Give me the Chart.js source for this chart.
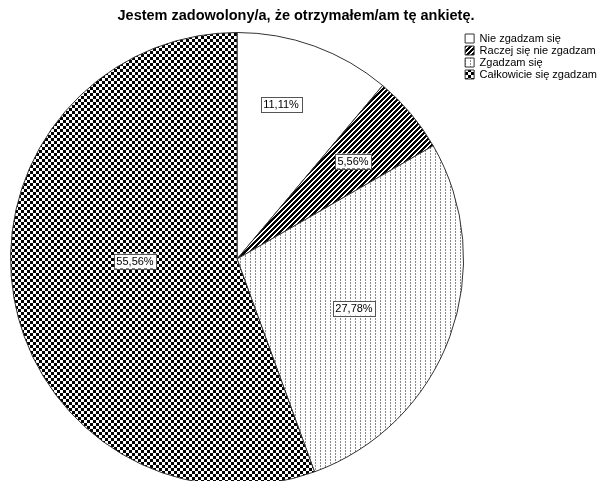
<!DOCTYPE html>
<html>
<head>
<meta charset="utf-8">
<script src="https://cdn.jsdelivr.net/npm/chart.js@4"></script>
<style>
  html, body { margin: 0; padding: 0; background: #fff; overflow: hidden; }
  #wrap { width: 597px; height: 481px; overflow: hidden; position: relative; }
  #pieChart { position: absolute; left: -15px; top: 0; }
</style>
</head>
<body>
<div id="wrap"><canvas id="pieChart" width="622" height="500"></canvas></div>
<script>
// data (n = 18)
const title = "Jestem zadowolony/a, że otrzymałem/am tę ankietę.";
const categories = ["Nie zgadzam się", "Raczej się nie zgadzam", "Zgadzam się", "Całkowicie się zgadzam"];
const counts = [2, 1, 5, 10];

const total = counts.reduce((a, b) => a + b, 0);
const percentLabels = counts.map(c => (c / total * 100).toFixed(2).replace(".", ",") + "%");

// small tiles used as fill patterns
function makePattern(w, h, draw){
    const c = document.createElement("canvas");
    c.width = w; c.height = h;
    const g = c.getContext("2d");
    g.fillStyle = "#fff";
    g.fillRect(0, 0, w, h);
    draw(g);
    return g.createPattern(c, "repeat");
}

const stripes = makePattern(5, 5, g => {
    g.fillStyle = "#000";
    for(let x = 0; x < 5; x++){
        for(let y = 0; y < 5; y++){
            if((x + y) % 5 < 3) g.fillRect(x, y, 1, 1);
        }
    }
});

const dots = makePattern(5, 3, g => {
    g.fillStyle = "#8a8a8a";
    g.fillRect(0, 0, 1, 2);
});

const checker = makePattern(6, 6, g => {
    g.fillStyle = "#000";
    g.fillRect(0, 0, 3, 3);
    g.fillRect(3, 3, 3, 3);
});

// boxed percent labels
const boxLabels = {
    id: "boxLabels",
    afterDatasetsDraw(chart, args, opts){
        const ctx = chart.ctx;
        const meta = chart.getDatasetMeta(0);
        ctx.save();
        ctx.font = "11px 'Liberation Sans', Arial, sans-serif";
        ctx.textAlign = "center";
        ctx.textBaseline = "middle";
        meta.data.forEach((arc, i) => {
            const p = arc.getProps(["x","y","startAngle","endAngle","outerRadius"], true);
            const mid = (p.startAngle + p.endAngle) / 2 + opts.angleShift[i] * Math.PI / 180;
            const r = p.outerRadius * opts.radius[i];
            const px = Math.round(p.x + Math.cos(mid) * r);
            const py = Math.round(p.y + Math.sin(mid) * r);
            const txt = percentLabels[i];
            const w = Math.round(ctx.measureText(txt).width) + 5;
            const h = 15;
            ctx.fillStyle = "#fff";
            ctx.fillRect(px - w/2, py - h/2, w, h);
            ctx.strokeStyle = "#555";
            ctx.lineWidth = 1;
            ctx.strokeRect(Math.round(px - w/2) + 0.5, Math.round(py - h/2) + 0.5, w, h);
            ctx.fillStyle = "#000";
            ctx.fillText(txt, px, py + 1);
        });
        ctx.restore();
    }
};

Chart.defaults.color = "#000";
Chart.defaults.font.family = "'Liberation Sans', Arial, sans-serif";

new Chart(document.getElementById("pieChart"), {
    type: "pie",
    data: {
        labels: categories,
        datasets: [{
            data: counts,
            backgroundColor: ["#ffffff", stripes, dots, checker],
            borderColor: "#333",
            borderWidth: 1
        }]
    },
    options: {
        responsive: false,
        animation: false,
        layout: { padding: { left: 0, right: 0, top: 0, bottom: 14 } },
        plugins: {
            title: {
                display: true,
                text: title,
                font: { size: 14.5, weight: "bold" },
                padding: { top: 7, bottom: 7.6 }
            },
            // empty left box, only keeps the pie clear of the left edge
            subtitle: {
                display: true,
                text: " ",
                position: "left",
                fullSize: false,
                font: { size: 10, lineHeight: 1.2 },
                padding: { top: 6.5, bottom: 6.5 }
            },
            legend: {
                position: "right",
                align: "start",
                fullSize: false,
                labels: {
                    boxWidth: 9,
                    boxHeight: 9,
                    padding: 1,
                    font: { size: 11 }
                }
            },
            tooltip: { enabled: false },
            boxLabels: {
                radius: [0.71, 0.67, 0.56, 0.45],
                angleShift: [-4, 0, 2.5, 9]
            }
        }
    },
    plugins: [boxLabels]
});
</script>
</body>
</html>
